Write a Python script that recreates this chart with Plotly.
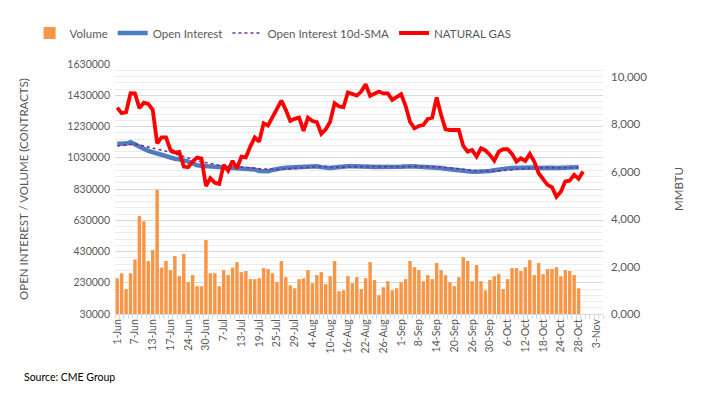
import plotly.graph_objects as go

# category labels shown on the x axis (every 4th trading day)
tick_labels = ["1-Jun", "7-Jun", "13-Jun", "17-Jun", "24-Jun", "30-Jun", "7-Jul", "13-Jul",
               "19-Jul", "25-Jul", "29-Jul", "4-Aug", "10-Aug", "16-Aug", "22-Aug", "26-Aug",
               "1-Sep", "8-Sep", "14-Sep", "20-Sep", "26-Sep", "30-Sep", "6-Oct", "12-Oct",
               "18-Oct", "24-Oct", "28-Oct", "3-Nov"]
n_categories = 110

volume = [259, 291, 189, 291, 379, 658, 623, 369, 439, 825,
          327, 369, 311, 401, 272, 414, 234, 279, 208, 208,
          504, 291, 291, 208, 311, 279, 327, 362, 298, 305,
          253, 253, 259, 324, 318, 291, 234, 369, 266, 214,
          195, 253, 259, 311, 227, 279, 298, 221, 272, 369,
          176, 182, 272, 227, 266, 189, 259, 362, 247, 150,
          201, 240, 182, 195, 234, 253, 369, 330, 311, 240,
          279, 253, 356, 311, 279, 234, 208, 266, 394, 369,
          240, 343, 240, 182, 247, 272, 285, 189, 253, 324,
          324, 305, 330, 375, 279, 356, 285, 318, 318, 330,
          272, 311, 305, 279, 195]
volume = [v * 1000 for v in volume]

open_interest = [1120, 1118, 1121, 1130, 1118, 1100, 1088, 1074, 1065, 1056,
                 1048, 1040, 1030, 1024, 1020, 1015, 1005, 995, 982, 978,
                 975, 972, 970, 968, 967, 966, 965, 964, 962, 961,
                 960, 955, 945, 943, 944, 952, 960, 963, 966, 968,
                 970, 972, 975, 978, 980, 975, 970, 966, 965, 968,
                 972, 975, 975, 976, 977, 977, 976, 973, 971, 970,
                 971, 972, 973, 970, 972, 974, 978, 975, 972, 972,
                 972, 971, 970, 965, 960, 956, 952, 948, 945, 943,
                 941, 940, 940, 941, 945, 950, 956, 960, 962, 964,
                 966, 968, 970, 971, 968, 965, 963, 965, 966, 965,
                 965, 966, 967, 968, 970]
open_interest = [v * 1000 for v in open_interest]

oi_sma = [1105, 1108, 1110, 1113, 1118, 1112, 1105, 1098, 1094, 1088,
          1080, 1072, 1065, 1055, 1047, 1040, 1030, 1020, 1010, 1004,
          996, 990, 985, 982, 980, 977, 974, 971, 969, 967,
          965, 963, 960, 958, 956, 955, 955, 956, 958, 960,
          962, 965, 968, 971, 973, 974, 974, 972, 970, 969,
          969, 970, 971, 972, 973, 974, 975, 975, 974, 973,
          972, 972, 972, 972, 972, 972, 973, 974, 974, 973,
          973, 973, 972, 970, 968, 965, 962, 958, 954, 951,
          948, 946, 944, 943, 943, 944, 946, 949, 952, 955,
          958, 961, 964, 966, 967, 967, 966, 966, 966, 966,
          966, 966, 966, 966, 967]
oi_sma = [v * 1000 for v in oi_sma]

natural_gas = [8690, 8457, 8500, 9300, 9290, 8670, 8900, 8850, 8600, 7190,
               7440, 7440, 6910, 6800, 6830, 6210, 6180, 6420, 6590, 6550,
               5390, 5720, 5530, 5480, 6280, 6030, 6450, 6140, 6630, 6600,
               7050, 7440, 7260, 8030, 7940, 8310, 8670, 8990, 8600, 8130,
               8220, 8270, 7710, 8270, 8130, 8080, 7590, 7780, 8100, 8880,
               8740, 8710, 9330, 9260, 9200, 9370, 9680, 9190, 9290, 9370,
               9290, 9290, 9020, 9160, 9260, 8770, 8100, 7820, 7920, 7960,
               8220, 8270, 9120, 8390, 7780, 7750, 7750, 7750, 7080, 6840,
               6910, 6630, 6980, 6890, 6700, 6460, 6840, 6940, 6940, 6740,
               6420, 6560, 6450, 6740, 6420, 5930, 5680, 5440, 5340, 4940,
               5150, 5580, 5620, 5860, 5690, 6000]

left_ticks = [30000, 230000, 430000, 630000, 830000, 1030000, 1230000, 1430000, 1630000]
right_ticks = [0, 2000, 4000, 6000, 8000, 10000]
right_tick_text = ["0,000", "2,000", "4,000", "6,000", "8,000", "10,000"]

FONT = "Lato"
GREY = "#595959"
LEFT_BASE = left_ticks[0]

fig = go.Figure()
fig.add_trace(go.Bar(x=list(range(len(volume))), y=[v - LEFT_BASE for v in volume], base=LEFT_BASE,
                     name="Volume", marker=dict(color="#F79646", line=dict(width=0)), width=0.78))
fig.add_trace(go.Scatter(x=list(range(len(open_interest))), y=open_interest, name="Open Interest",
                         mode="lines", line=dict(color="#4E7DBF", width=4.5)))
fig.add_trace(go.Scatter(x=list(range(len(oi_sma))), y=oi_sma, name="Open Interest 10d-SMA",
                         mode="lines", line=dict(color="#7030A0", width=1.6, dash="dot")))
fig.add_trace(go.Scatter(x=list(range(len(natural_gas))), y=natural_gas, name="NATURAL GAS",
                         mode="lines", line=dict(color="#FF0000", width=3.8), yaxis="y2"))

tick_positions = [i * 4 for i in range(len(tick_labels))]

fig.update_layout(
    width=693, height=388,
    margin=dict(l=107, r=98, t=56, b=82, autoexpand=False),
    paper_bgcolor="white", plot_bgcolor="white",
    font=dict(family=FONT, color=GREY, size=11),
    showlegend=True,
    legend=dict(orientation="h", x=-0.175, xanchor="left", y=1.124, yanchor="middle",
                font=dict(size=11.5, color=GREY), itemwidth=30, tracegroupgap=0,
                bgcolor="rgba(0,0,0,0)"),
    xaxis=dict(range=[-0.5, n_categories - 0.5], tickvals=tick_positions, ticktext=tick_labels,
               tickangle=-90, tickfont=dict(size=10.5, color=GREY), showgrid=False,
               showline=True, linecolor="#D9D9D9", linewidth=1, ticks="",
               minor=dict(tick0=0.5, dtick=1, ticks="outside", ticklen=4, tickcolor="#D9D9D9",
                          showgrid=False),
               zeroline=False),
    yaxis=dict(range=[30000, 1630000], tickvals=left_ticks, ticktext=[str(v) for v in left_ticks],
               showgrid=True, gridcolor="#D9D9D9", gridwidth=1,
               minor=dict(dtick=40000, tick0=30000, showgrid=True, gridcolor="#EBEBEB", gridwidth=1),
               zeroline=False, tickfont=dict(size=10.5, color=GREY), ticks="",
               ticklabelstandoff=4,
               title=dict(text="OPEN INTEREST / VOLUME (CONTRACTS)", font=dict(size=11.5, color=GREY),
                          standoff=36)),
    yaxis2=dict(range=[0, 10530], overlaying="y", side="right", tickvals=right_ticks,
                ticktext=right_tick_text, showgrid=False, zeroline=False,
                tickfont=dict(size=11.5, color=GREY), ticks="", ticklabelstandoff=7,
                title=dict(text="MMBTU", font=dict(size=11.5, color=GREY), standoff=28)),
)

fig.add_annotation(text="Source: CME Group", xref="paper", yref="paper",
                   x=-0.19, y=-0.252, xanchor="left", yanchor="middle", showarrow=False,
                   font=dict(size=10.5, color="#000000", family=FONT))

fig.write_html("out.html")
